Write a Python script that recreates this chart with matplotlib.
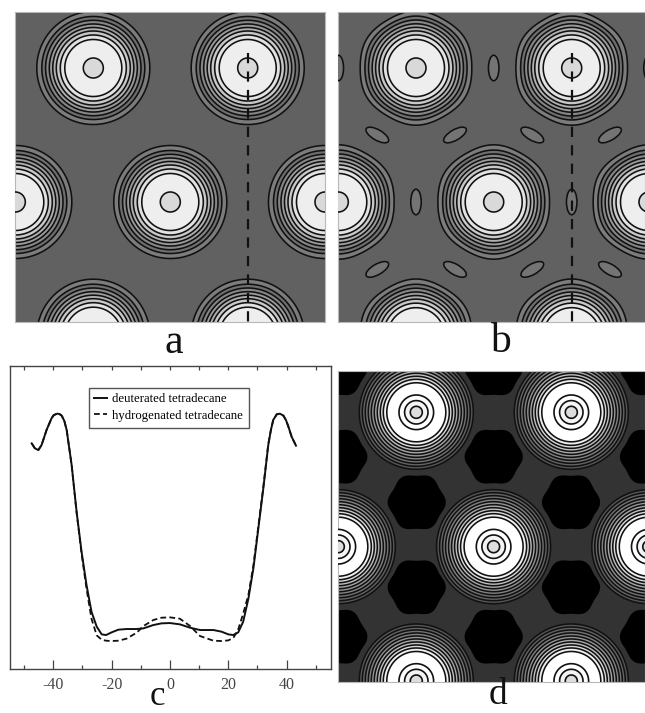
import matplotlib
matplotlib.use('Agg')
import matplotlib.pyplot as plt
import numpy as np
from matplotlib.patches import Ellipse

W, H = 645, 713

plt.rcParams['font.family'] = ['Liberation Serif', 'DejaVu Serif']
plt.rcParams['axes.unicode_minus'] = False

# lattice of the pores, measured from the top left corner of each map
centers_a = [(78, 56.3), (232.4, 56.3), (155, 190.3), (0, 190.3), (309.7, 190.3), (78, 324), (232.4, 324)]
centers_b = [(77.7, 56.3), (233.4, 56.3), (155.4, 190.3), (0, 190.3), (310.7, 190.3), (77.7, 324.5), (233.4, 324.5)]
centers_d = [(78, 41.3), (233, 41.3), (155.3, 175.7), (0, 175.7), (310.5, 175.7), (78, 310), (233, 310)]

# contour radii, outermost first
radii_ab = [56.5, 51.5, 47.7, 44, 40.5, 37, 33, 28.5]
shades_ab = ['#7c7c7c', '#6e6e6e', '#868686', '#9a9a9a', '#b0b0b0', '#c8c8c8', '#e2e2e2', '#eeeeee']
core_ab = 10
radii_d = [57, 54, 51, 48, 45, 42, 39, 36, 33, 29.5]
shades_d = ['#555555', '#636363', '#727272', '#828282', '#949494', '#a8a8a8', '#c0c0c0', '#dadada', '#f0f0f0', '#ffffff']
inner_d = [17.3, 11.7, 6]
inner_shades_d = ['#ffffff', '#f4f4f4', '#dddddd']

# small closed contours of map b: x, y, angle on screen
satellites_b = [
    (155.4, 56.3, 90), (0, 56.3, 90), (310.7, 56.3, 90), (77.7, 190.3, 90), (233.4, 190.3, 90),
    (39, 123.3, 30), (116.7, 123.3, -30), (194, 123.3, 30), (271.7, 123.3, -30),
    (39, 257.7, -30), (116.7, 257.7, 30), (194, 257.7, -30), (271.7, 257.7, 30),
]

# black regions of map d
blobs_d = [
    (155.4, -2.7), (0, -2.7), (310.7, -2.7), (78.4, 131.3), (232.7, 131.3),
    (155.4, 85.7), (0, 85.7), (310.7, 85.7), (78.4, 216.3), (232.7, 216.3),
    (155.4, 265.7), (0, 265.7), (310.7, 265.7),
]

# density profile of panel c
profile_x = [-47.4, -46.3, -45.1, -44, -42.3, -40.6, -39.8, -38.6, -37.9, -37.1, -36.2, -35.4, -33.7, -32, -30.3, -28.6, -26.9,
             -25.1, -23.4, -21.9, -20, -17.7, -14.9, -11.4, -9.1, -5.7, -2.9, 0, 3.4, 6.9, 10.3, 14.9, 17.7,
             20, 21.7, 23.4, 25.1, 26.9, 28.6, 30.3, 32, 33.7, 34.6, 35.4, 36.6, 37.7, 38.9, 39.8, 40.6, 41.7, 43.2]
deuterated = [676, 661, 656, 671, 716, 751, 761, 765, 764, 759, 743, 716, 611, 471, 351, 251, 171,
              126, 103, 101, 109, 117, 119, 119, 121, 131, 136, 137, 133, 123, 116, 116, 111,
              103, 101, 109, 141, 211, 301, 421, 541, 671, 716, 746, 763, 765, 759, 745, 726, 696, 669]
hydrogenated = [676, 661, 656, 671, 716, 751, 761, 765, 764, 759, 743, 716, 611, 468, 345, 240, 150,
                100, 87, 84, 83, 84, 90, 108, 128, 146, 153, 154, 150, 128, 98, 84, 83,
                85, 92, 118, 165, 222, 310, 428, 545, 674, 716, 746, 763, 765, 759, 745, 726, 696, 669]
ticks_major = [-40, -20, 0, 20, 40]
ticks_minor = [-50, -30, -10, 10, 30, 50]
ticks_top = [-50, -40, -30, -20, -10, 0, 10, 20, 30, 40, 50]


def panel(x0, y0, x1, y1):
    ax = fig.add_axes([x0 / W, 1 - y1 / H, (x1 - x0) / W, (y1 - y0) / H])
    ax.set_xlim(0, x1 - x0)
    ax.set_ylim(y1 - y0, 0)
    ax.set_xticks([])
    ax.set_yticks([])
    for s in ax.spines.values():
        s.set_color('#b8b8b8')
    return ax


def outline(cx, cy, r, wobble=0.0):
    t = np.linspace(0, 2 * np.pi, 361)
    rr = r * (1 - wobble * np.cos(6 * t))
    return cx + rr * np.cos(t), cy + rr * np.sin(t)


def rings(ax, centers, radii, shades, wobble=0.0, lw=1.15):
    for cx, cy in centers:
        for r, shade in zip(radii, shades):
            # the corners fade out towards the middle of the pore
            w = wobble * (r / radii[0]) ** 4
            x, y = outline(cx, cy, r, w)
            ax.fill(x, y, facecolor=shade, edgecolor='#111111', linewidth=lw, zorder=2)


def dashes(ax, x, y0, y1):
    ax.plot([x, x], [y0, y1], color='#111111', lw=1.6, linestyle=(0, (4.6, 3.7)), zorder=5)


def label(s, x, y, size=30):
    fig.text(x / W, 1 - y / H, s, ha='center', va='baseline', fontsize=size, color='#111111')


fig = plt.figure(figsize=(W / 100, H / 100), dpi=100)

# a
ax_a = panel(15.3, 11.7, 325, 321.7)
ax_a.set_facecolor('#616161')
rings(ax_a, centers_a, radii_ab, shades_ab)
for cx, cy in centers_a:
    x, y = outline(cx, cy, core_ab)
    ax_a.fill(x, y, facecolor='#d9d9d9', edgecolor='#111111', linewidth=1.15, zorder=3)
dashes(ax_a, 232.4, 41.5, 311)

# b
ax_b = panel(338.3, 11.7, 645, 321.7)
ax_b.set_facecolor('#616161')
rings(ax_b, centers_b, radii_ab, shades_ab, wobble=0.012)
for cx, cy in centers_b:
    x, y = outline(cx, cy, core_ab)
    ax_b.fill(x, y, facecolor='#d9d9d9', edgecolor='#111111', linewidth=1.15, zorder=3)
for sx, sy, ang in satellites_b:
    ax_b.add_patch(Ellipse((sx, sy), 25.5, 10.5, angle=ang, facecolor='#747474', edgecolor='#111111',
                           linewidth=1.15, zorder=3))
dashes(ax_b, 233.4, 41.5, 311)

# d
ax_d = panel(338.3, 371, 645, 681.7)
ax_d.set_facecolor('#333333')
for bx, by in blobs_d:
    t = np.linspace(0, 2 * np.pi, 361)
    rr = 27.8 + 1.3 * np.cos(6 * t)
    ax_d.fill(bx + rr * np.cos(t), by + rr * np.sin(t), facecolor='black', edgecolor='none', zorder=1)
rings(ax_d, centers_d, radii_d, shades_d)
for cx, cy in centers_d:
    for r, shade in zip(inner_d, inner_shades_d):
        x, y = outline(cx, cy, r)
        ax_d.fill(x, y, facecolor=shade, edgecolor='#111111', linewidth=1.2, zorder=3)

# c
ax_c = fig.add_axes([9.5 / W, 1 - 668.7 / H, (331 - 9.5) / W, (668.7 - 366) / H])
ax_c.plot(profile_x, deuterated, color='#111111', lw=1.4, label='deuterated tetradecane')
ax_c.plot(profile_x, hydrogenated, color='#111111', lw=1.3, linestyle=(0, (3.2, 1.8)), label='hydrogenated tetradecane')
ax_c.set_xlim(-55, 55.2)
ax_c.set_ylim(0, 908)
ax_c.set_yticks([])
ax_c.set_xticks(ticks_major)
ax_c.set_xticks(ticks_minor, minor=True)
ax_c.tick_params(axis='x', which='major', direction='in', length=6.5, width=0.9, color='#444444',
                 labelsize=11.5, labelcolor='#444444', pad=6)
ax_c.tick_params(axis='x', which='minor', direction='in', length=3.2, width=0.9, color='#444444')
top = ax_c.secondary_xaxis('top')
top.set_xticks(ticks_top)
top.set_xticklabels([])
top.tick_params(axis='x', direction='in', length=3, width=0.9, color='#444444')
top.spines['top'].set_visible(False)
for s in ax_c.spines.values():
    s.set_color('#444444')
    s.set_linewidth(1.0)
ax_c.legend(loc='upper left', bbox_to_anchor=(0.2465, 0.9285), fontsize=9.2, frameon=True, fancybox=False,
            framealpha=1, edgecolor='#555555', handlelength=0.95, handletextpad=0.45, labelspacing=0.35,
            borderpad=0.45, borderaxespad=0)

label('a', 174, 352.7)
label('b', 500, 351.7)
label('c', 157, 705, 25)
label('d', 498, 704.5, 27)

fig.savefig('out.png', dpi=100)
